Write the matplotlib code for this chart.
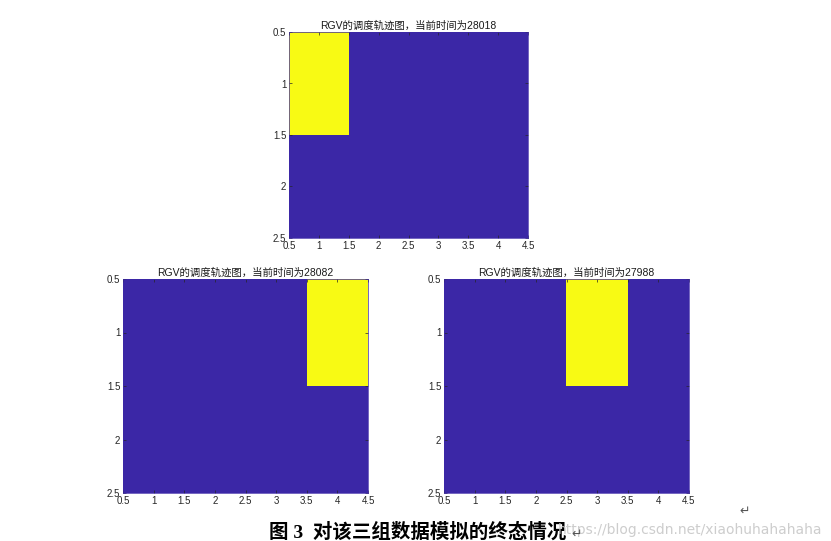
import numpy as np
import matplotlib.pyplot as plt
from matplotlib.colors import ListedColormap

plt.rcParams['font.family'] = ['Liberation Sans', 'Noto Sans CJK SC']

# 三组 2x4 栅格, 1 = RGV 所在位置
grid_top = [[1, 0, 0, 0],
            [0, 0, 0, 0]]
grid_left = [[0, 0, 0, 1],
             [0, 0, 0, 0]]
grid_right = [[0, 0, 1, 0],
              [0, 0, 0, 0]]
times = [28018, 28082, 27988]
xticks = [0.5, 1, 1.5, 2, 2.5, 3, 3.5, 4, 4.5]
xticklabels = ['0.5', '1', '1.5', '2', '2.5', '3', '3.5', '4', '4.5']
yticks = [0.5, 1, 1.5, 2, 2.5]
yticklabels = ['0.5', '1', '1.5', '2', '2.5']

cmap = ListedColormap(['#3b27a6', '#f8fa14'])

W, H = 831, 541
fig = plt.figure(figsize=(W / 100, H / 100), dpi=100)


def px_axes(x0, y0, x1, y1):
    return fig.add_axes([x0 / W, 1 - y1 / H, (x1 - x0) / W, (y1 - y0) / H])


boxes = [(289, 32, 528, 238), (123, 279, 368, 493), (444, 279, 689, 493)]
grids = [grid_top, grid_left, grid_right]

for box, g, t in zip(boxes, grids, times):
    ax = px_axes(*box)
    ax.imshow(np.array(g), cmap=cmap, vmin=0, vmax=1, aspect='auto',
              extent=(0.5, 4.5, 2.5, 0.5), interpolation='nearest')
    ax.set_xlim(0.5, 4.5)
    ax.set_ylim(2.5, 0.5)
    ax.set_xticks(xticks)
    ax.set_xticklabels(xticklabels)
    ax.set_yticks(yticks)
    ax.set_yticklabels(yticklabels)
    ax.tick_params(direction='in', length=2.5, width=0.5, labelsize=7,
                   colors='#262626', top=True, right=True, pad=2)
    for s in ax.spines.values():
        s.set_linewidth(0.5)
        s.set_color('#3b27a6')
    ax.set_title(f'RGV的调度轨迹图，当前时间为{t}', fontsize=7.5,
                 color='#1a1a1a', pad=2)

fig.text(418 / W, 1 - 532 / H, '图 3  对该三组数据模拟的终态情况', fontsize=14,
         fontweight='bold', ha='center', va='center', color='black',
         family=['Liberation Serif', 'Noto Sans CJK SC'])
fig.text(822 / W, 1 - 530 / H, 'https://blog.csdn.net/xiaohuhahahaha',
         fontsize=10, color='#c8c8c8', ha='right', va='center',
         family=['DejaVu Sans'], alpha=0.9)
fig.text(571 / W, 1 - 534 / H, '↵', fontsize=9, color='#555555',
         ha='left', va='center', family=['DejaVu Sans'])
fig.text(745 / W, 1 - 511 / H, '↵', fontsize=9, color='#555555',
         ha='center', va='center', family=['DejaVu Sans'])

fig.savefig('out.png', dpi=100)
